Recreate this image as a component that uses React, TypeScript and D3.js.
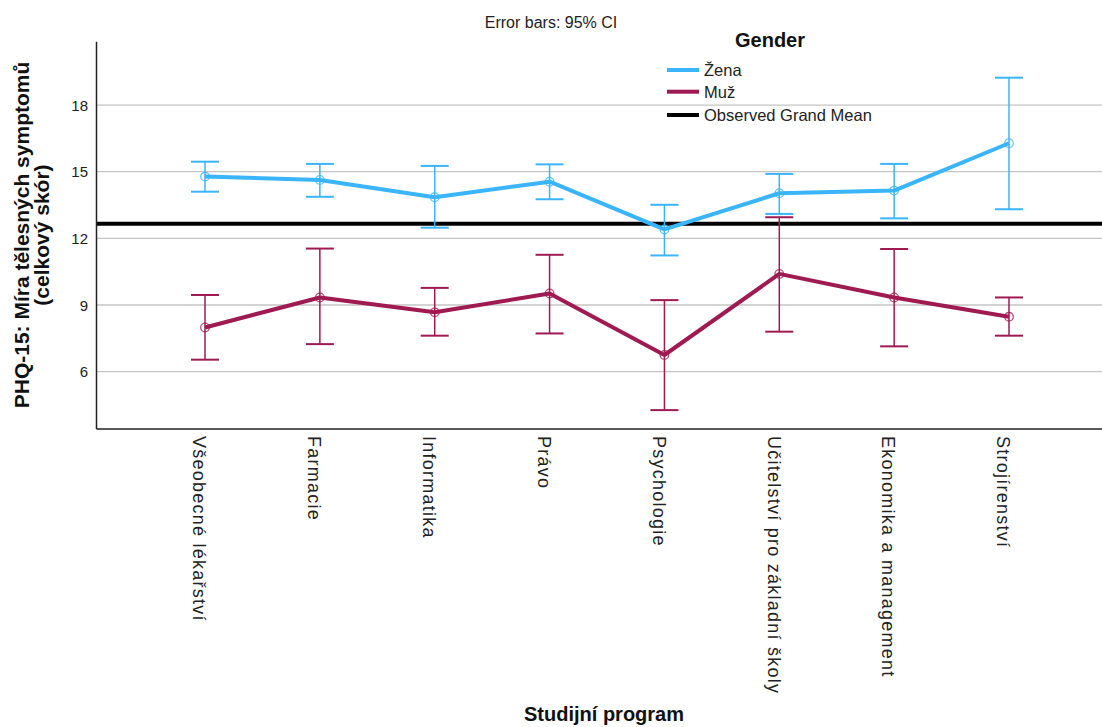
import React from "react";
import * as d3 from "d3";

const categories = [
  "Všeobecné lékařství",
  "Farmacie",
  "Informatika",
  "Právo",
  "Psychologie",
  "Učitelství pro základní školy",
  "Ekonomika a management",
  "Strojírenství",
];

const zenaMean = [14.78, 14.63, 13.85, 14.55, 12.4, 14.03, 14.15, 16.28];
const zenaLow = [14.1, 13.87, 12.48, 13.76, 11.23, 13.1, 12.9, 13.31];
const zenaHigh = [15.45, 15.35, 15.26, 15.33, 13.51, 14.9, 15.35, 19.23];

const muzMean = [7.99, 9.34, 8.67, 9.52, 6.75, 10.4, 9.34, 8.47];
const muzLow = [6.54, 7.24, 7.62, 7.72, 4.27, 7.8, 7.14, 7.62];
const muzHigh = [9.45, 11.54, 9.77, 11.26, 9.22, 12.95, 11.52, 9.34];

const grandMean = 12.66;
const yTicks = [6, 9, 12, 15, 18];

const legendItems = ["Žena", "Muž", "Observed Grand Mean"];

const BLUE = "#3AB5FC";
const MAROON = "#A01A52";
const FONT = "'Liberation Sans', Arial, Helvetica, sans-serif";

export default function App() {
  const W = 1102;
  const H = 727;
  const left = 96.5;
  const right = 1102;
  const top = 41.7;
  const bottom = 429;

  const x = d3.scalePoint<string>().domain(categories).range([205, 1009]);
  const y = d3.scaleLinear().domain([3.42, 20.85]).range([bottom, top]);

  const line = d3
    .line<number>()
    .x((_, i) => x(categories[i]) as number)
    .y((d) => y(d));

  const series = [
    { name: "Žena", color: BLUE, mean: zenaMean, low: zenaLow, high: zenaHigh },
    { name: "Muž", color: MAROON, mean: muzMean, low: muzLow, high: muzHigh },
  ];
  const legendColors = [BLUE, MAROON, "#000000"];
  const capHalf = 14;

  return (
    <svg
      width={W}
      height={H}
      style={{ position: "absolute", left: 0, top: 0, background: "#fff" }}
      fontFamily={FONT}
    >
      <rect x={0} y={0} width={W} height={H} fill="#ffffff" />
      <text x={551} y={28} fontSize={16} textAnchor="middle" fill="#222">
        Error bars: 95% CI
      </text>

      {yTicks.map((t) => (
        <line
          key={"g" + t}
          x1={left}
          x2={right}
          y1={y(t)}
          y2={y(t)}
          stroke="#c4c4c4"
          strokeWidth={1.3}
        />
      ))}

      <line
        x1={left}
        x2={right}
        y1={y(grandMean)}
        y2={y(grandMean)}
        stroke="#000"
        strokeWidth={4}
      />

      {series.map((s) => (
        <g key={s.name}>
          <path d={line(s.mean) || ""} fill="none" stroke={s.color} strokeWidth={4} strokeLinejoin="round" />
          {s.mean.map((m, i) => {
            const cx = x(categories[i]) as number;
            return (
              <g key={i}>
                <line x1={cx} x2={cx} y1={y(s.low[i])} y2={y(s.high[i])} stroke={s.color} strokeWidth={1.5} />
                <line x1={cx - capHalf} x2={cx + capHalf} y1={y(s.low[i])} y2={y(s.low[i])} stroke={s.color} strokeWidth={2} />
                <line x1={cx - capHalf} x2={cx + capHalf} y1={y(s.high[i])} y2={y(s.high[i])} stroke={s.color} strokeWidth={2} />
                <circle cx={cx} cy={y(m)} r={4.3} fill="none" stroke={s.color} strokeWidth={1.3} opacity={0.8} />
              </g>
            );
          })}
        </g>
      ))}

      <line x1={left} x2={left} y1={top} y2={bottom} stroke="#222" strokeWidth={1.5} />
      <line x1={left} x2={right} y1={bottom} y2={bottom} stroke="#222" strokeWidth={1.5} />

      {yTicks.map((t) => (
        <text key={"t" + t} x={88} y={y(t)} dy="0.38em" fontSize={15} textAnchor="end" fill="#222">
          {t}
        </text>
      ))}

      {categories.map((c) => {
        const cx = x(c) as number;
        return (
          <text
            key={c}
            transform={`translate(${cx},436) rotate(90)`}
            dy="0.65em"
            fontSize={18}
            letterSpacing={1.25}
            textAnchor="start"
            fill="#222"
          >
            {c}
          </text>
        );
      })}

      <text transform="translate(28.5,235) rotate(-90)" fontSize={21} fontWeight="bold" textAnchor="middle" fill="#111">
        PHQ-15: Míra tělesných symptomů
      </text>
      <text transform="translate(49,235) rotate(-90)" fontSize={21} fontWeight="bold" textAnchor="middle" fill="#111">
        (celkový skór)
      </text>

      <text x={604} y={721} fontSize={20} fontWeight="bold" textAnchor="middle" fill="#111">
        Studijní program
      </text>

      <text x={770} y={47} fontSize={20} fontWeight="bold" textAnchor="middle" fill="#111">
        Gender
      </text>
      {legendItems.map((name, i) => {
        const ly = [70, 91.7, 115][i];
        return (
          <g key={name}>
            <line x1={667} x2={699} y1={ly} y2={ly} stroke={legendColors[i]} strokeWidth={4} />
            <text x={704} y={ly} dy="0.38em" fontSize={16.5} fill="#222">
              {name}
            </text>
          </g>
        );
      })}
    </svg>
  );
}
